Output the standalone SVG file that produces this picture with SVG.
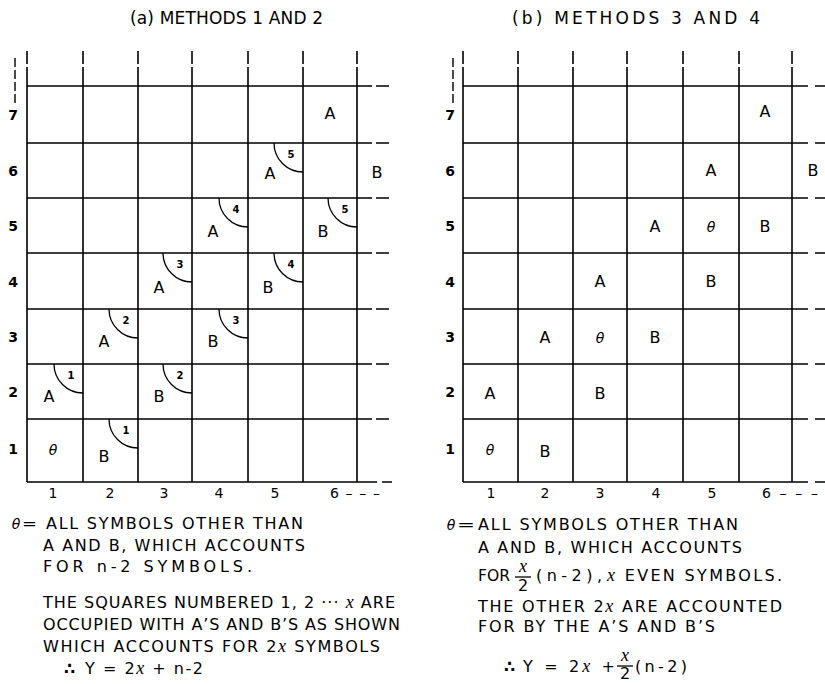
<svg xmlns="http://www.w3.org/2000/svg" width="825" height="684" viewBox="0 0 825 684">
<style>
.g{stroke:#000;stroke-width:1.5;fill:none}
.v{stroke:#000;stroke-width:1.6;fill:none;stroke-dasharray:13 3 600}
.ax{stroke:#000;stroke-width:1.4;fill:none;stroke-dasharray:9 3}
.arc{stroke:#000;stroke-width:1.3;fill:none}
text{font-family:"DejaVu Sans","Liberation Sans",sans-serif;fill:#000}
.t{font-size:17px}
.L{font-size:16px;text-anchor:middle}
.n{font-size:10px;text-anchor:middle;font-weight:bold}
.r{font-size:14px;text-anchor:middle;font-weight:bold}
.c{font-size:14px;text-anchor:middle}
.th{font-family:"DejaVu Sans",sans-serif;font-style:italic;font-size:14px;text-anchor:middle}
.x{font-family:"Liberation Serif",serif;font-style:italic;font-size:18px}
.b{font-size:16px}
</style>
<rect width="825" height="684" fill="#fff"/>

<g id="panel-a">
<text class="t" x="130" y="24" textLength="193" lengthAdjust="spacing">(a) METHODS 1 AND 2</text>
<g id="grid-a">
<line class="ax" x1="15" y1="58" x2="15" y2="104"/>
<g class="v">
<line x1="27" y1="51" x2="27" y2="482"/><line x1="83" y1="51" x2="83" y2="482"/><line x1="138" y1="51" x2="138" y2="482"/><line x1="192" y1="51" x2="192" y2="482"/><line x1="248" y1="51" x2="248" y2="482"/><line x1="303" y1="51" x2="303" y2="482"/><line x1="357" y1="51" x2="357" y2="482"/>
</g>
<g class="g">
<path d="M27 86H372M376 86H389M27 143H372M376 143H389M27 198H372M376 198H389M27 253H372M376 253H389M27 309H372M376 309H389M27 364H372M376 364H389M27 419H372M376 419H389M27 482H377M382 482H392"/>
</g>
<g class="r">
<text x="13" y="120">7</text><text x="13" y="176">6</text><text x="13" y="231">5</text><text x="13" y="287">4</text><text x="13" y="342">3</text><text x="13" y="397">2</text><text x="13" y="454">1</text>
</g>
<g class="c">
<text x="53" y="498">1</text><text x="110" y="498">2</text><text x="164" y="498">3</text><text x="219" y="498">4</text><text x="275" y="498">5</text>
<text x="330" y="498" text-anchor="start" textLength="50" lengthAdjust="spacing">6–––</text>
</g>
</g>
<g id="arcs-a" class="arc">
<path d="M109 419A29 29 0 0 0 138 448"/>
<path d="M54 364A29 29 0 0 0 83 393"/>
<path d="M109 309A29 29 0 0 0 138 338"/>
<path d="M163 364A29 29 0 0 0 192 393"/>
<path d="M163 253A29 29 0 0 0 192 282"/>
<path d="M219 309A29 29 0 0 0 248 338"/>
<path d="M219 198A29 29 0 0 0 248 227"/>
<path d="M274 253A29 29 0 0 0 303 282"/>
<path d="M274 143A29 29 0 0 0 303 172"/>
<path d="M328 198A29 29 0 0 0 357 227"/>
</g>
<g id="arcnums-a" class="n">
<text x="126" y="434">1</text><text x="71" y="379">1</text>
<text x="126" y="324">2</text><text x="180" y="379">2</text>
<text x="180" y="268">3</text><text x="236" y="324">3</text>
<text x="236" y="213">4</text><text x="291" y="268">4</text>
<text x="291" y="158">5</text><text x="345" y="213">5</text>
</g>
<g id="letters-a" class="L">
<text class="th" x="53" y="455">θ</text>
<text x="104" y="462">B</text>
<text x="49" y="402">A</text>
<text x="104" y="347">A</text>
<text x="159" y="402">B</text>
<text x="159" y="293">A</text>
<text x="213" y="347">B</text>
<text x="213" y="237">A</text>
<text x="268" y="293">B</text>
<text x="270" y="179">A</text>
<text x="323" y="237">B</text>
<text x="330" y="119">A</text>
<text x="377" y="178">B</text>
</g>
<g id="notes-a">
<text class="th" x="16" y="529">θ</text>
<text class="b" x="22" y="529" textLength="15" lengthAdjust="spacingAndGlyphs">=</text>
<text class="b" x="46" y="529" textLength="257" lengthAdjust="spacing">ALL SYMBOLS OTHER THAN</text>
<text class="b" x="43" y="551" textLength="262" lengthAdjust="spacing">A AND B, WHICH ACCOUNTS</text>
<text class="b" x="43" y="572" textLength="209" lengthAdjust="spacing">FOR n-2 SYMBOLS.</text>
<text class="b" x="43" y="608" textLength="352" lengthAdjust="spacing">THE SQUARES NUMBERED 1, 2 ··· <tspan class="x">x</tspan> ARE</text>
<text class="b" x="43" y="630" textLength="357" lengthAdjust="spacing">OCCUPIED WITH A’S AND B’S AS SHOWN</text>
<text class="b" x="43" y="652" textLength="337" lengthAdjust="spacing">WHICH ACCOUNTS FOR 2<tspan class="x">x</tspan> SYMBOLS</text>
<text class="b" x="64" y="674" font-size="17" font-weight="bold">∴</text>
<text class="b" x="85" y="674" textLength="118" lengthAdjust="spacing">Y = 2<tspan class="x">x</tspan> + n-2</text>
</g>
</g>

<g id="panel-b">
<text class="t" x="512" y="24" textLength="248" lengthAdjust="spacing">(b) METHODS 3 AND 4</text>
<g id="grid-b">
<line class="ax" x1="453" y1="58" x2="453" y2="104"/>
<g class="v">
<line x1="463" y1="51" x2="463" y2="482"/><line x1="518" y1="51" x2="518" y2="482"/><line x1="573" y1="51" x2="573" y2="482"/><line x1="627" y1="51" x2="627" y2="482"/><line x1="683" y1="51" x2="683" y2="482"/><line x1="739" y1="51" x2="739" y2="482"/><line x1="792" y1="51" x2="792" y2="482"/>
</g>
<g class="g">
<path d="M463 86H808M815 86H825M463 143H808M815 143H825M463 198H808M815 198H825M463 253H808M815 253H825M463 309H808M815 309H825M463 364H808M815 364H825M463 419H808M815 419H825M463 482H808M815 482H825"/>
</g>
<g class="r">
<text x="450" y="120">7</text><text x="450" y="176">6</text><text x="450" y="231">5</text><text x="450" y="287">4</text><text x="450" y="342">3</text><text x="450" y="397">2</text><text x="450" y="454">1</text>
</g>
<g class="c">
<text x="491" y="498">1</text><text x="545" y="498">2</text><text x="600" y="498">3</text><text x="656" y="498">4</text><text x="712" y="498">5</text>
<text x="762" y="498" text-anchor="start" textLength="56" lengthAdjust="spacing">6–––</text>
</g>
</g>
<g id="letters-b" class="L">
<text x="765" y="117">A</text>
<text x="711" y="176">A</text>
<text x="813" y="176">B</text>
<text x="655" y="232">A</text>
<text class="th" x="711" y="232">θ</text>
<text x="765" y="232">B</text>
<text x="600" y="287">A</text>
<text x="711" y="287">B</text>
<text x="545" y="343">A</text>
<text class="th" x="600" y="343">θ</text>
<text x="655" y="343">B</text>
<text x="490" y="399">A</text>
<text x="600" y="399">B</text>
<text class="th" x="490" y="455">θ</text>
<text x="545" y="457">B</text>
</g>
<g id="notes-b">
<text class="th" x="451" y="530">θ</text>
<text class="b" x="457" y="530" textLength="18" lengthAdjust="spacingAndGlyphs">=</text>
<text class="b" x="478" y="530" textLength="260" lengthAdjust="spacing">ALL SYMBOLS OTHER THAN</text>
<text class="b" x="478" y="553" textLength="264" lengthAdjust="spacing">A AND B, WHICH ACCOUNTS</text>
<text class="b" x="478" y="581" textLength="32" lengthAdjust="spacingAndGlyphs">FOR</text>
<text class="x" x="523" y="572" text-anchor="middle" font-size="15">x</text>
<line x1="515" y1="577" x2="531" y2="577" stroke="#000" stroke-width="1.3"/>
<text class="b" x="523" y="591" text-anchor="middle" font-size="13">2</text>
<text class="b" x="536" y="581" textLength="66" lengthAdjust="spacing">(n-2),</text>
<text class="b" x="607" y="581" textLength="175" lengthAdjust="spacing"><tspan class="x">x</tspan> EVEN SYMBOLS.</text>
<text class="b" x="478" y="612" textLength="304" lengthAdjust="spacing">THE OTHER 2<tspan class="x">x</tspan> ARE ACCOUNTED</text>
<text class="b" x="478" y="632" textLength="237" lengthAdjust="spacing">FOR BY THE A’S AND B’S</text>
<text class="b" x="504" y="672" font-size="17" font-weight="bold">∴</text>
<text class="b" x="523" y="672" textLength="92" lengthAdjust="spacing">Y = 2<tspan class="x">x</tspan> +</text>
<text class="x" x="625" y="661" text-anchor="middle" font-size="15">x</text>
<line x1="617" y1="666" x2="633" y2="666" stroke="#000" stroke-width="1.3"/>
<text class="b" x="625" y="679" text-anchor="middle" font-size="13">2</text>
<text class="b" x="635" y="672" textLength="52" lengthAdjust="spacing">(n-2)</text>
</g>
</g>
</svg>
